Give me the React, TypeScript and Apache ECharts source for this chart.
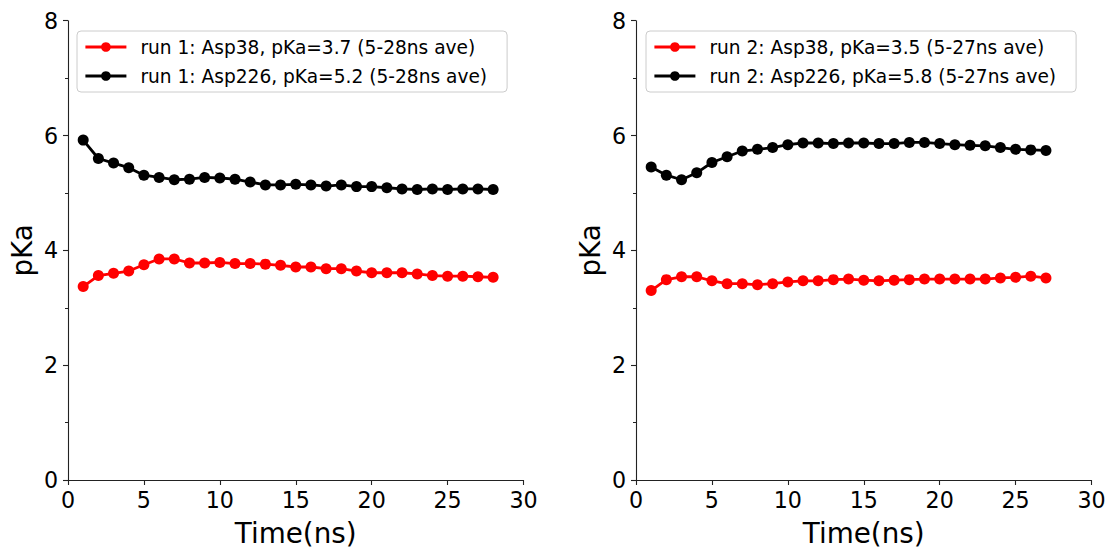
import React, { useEffect, useRef } from "react";
import * as echarts from "echarts";

const FONT = "DejaVu Sans";

const run1Time = [1, 2, 3, 4, 5, 6, 7, 8, 9, 10, 11, 12, 13, 14, 15, 16, 17, 18, 19, 20, 21, 22, 23, 24, 25, 26, 27, 28];
const run1Asp38 = [3.37, 3.56, 3.60, 3.64, 3.75, 3.85, 3.85, 3.78, 3.78, 3.79, 3.77, 3.77, 3.76, 3.74, 3.71, 3.71, 3.68, 3.68, 3.64, 3.61, 3.61, 3.61, 3.59, 3.56, 3.55, 3.55, 3.54, 3.53];
const run1Asp226 = [5.92, 5.60, 5.52, 5.44, 5.31, 5.27, 5.23, 5.24, 5.27, 5.26, 5.24, 5.19, 5.14, 5.14, 5.15, 5.14, 5.12, 5.14, 5.11, 5.11, 5.09, 5.07, 5.06, 5.07, 5.06, 5.07, 5.07, 5.06];

const run2Time = [1, 2, 3, 4, 5, 6, 7, 8, 9, 10, 11, 12, 13, 14, 15, 16, 17, 18, 19, 20, 21, 22, 23, 24, 25, 26, 27];
const run2Asp38 = [3.30, 3.49, 3.54, 3.54, 3.47, 3.42, 3.42, 3.40, 3.42, 3.45, 3.47, 3.47, 3.49, 3.50, 3.48, 3.47, 3.48, 3.49, 3.50, 3.50, 3.50, 3.50, 3.50, 3.52, 3.53, 3.55, 3.52];
const run2Asp226 = [5.45, 5.31, 5.23, 5.35, 5.53, 5.63, 5.73, 5.76, 5.79, 5.84, 5.87, 5.87, 5.86, 5.87, 5.87, 5.86, 5.86, 5.88, 5.88, 5.86, 5.84, 5.83, 5.82, 5.79, 5.76, 5.75, 5.74];

const xTicks = [0, 5, 10, 15, 20, 25, 30];
const yTicks = [0, 2, 4, 6, 8];

const names1 = ["run 1: Asp38, pKa=3.7 (5-28ns ave)", "run 1: Asp226, pKa=5.2 (5-28ns ave)"];
const names2 = ["run 2: Asp38, pKa=3.5 (5-27ns ave)", "run 2: Asp226, pKa=5.8 (5-27ns ave)"];

const AXIS_COLOR = "#222";

function pairs(xs: number[], ys: number[]) {
  return xs.map((x, i) => [x, ys[i]]);
}

function makeX(gridIndex: number) {
  return {
    type: "value",
    gridIndex,
    min: xTicks[0],
    max: xTicks[xTicks.length - 1],
    interval: 5,
    name: "Time(ns)",
    nameLocation: "middle",
    nameGap: 39,
    nameTextStyle: { fontFamily: FONT, fontSize: 27.8, color: "#000" },
    axisLine: { show: true, lineStyle: { color: AXIS_COLOR, width: 1.1 } },
    axisTick: { show: true, length: 5, lineStyle: { color: AXIS_COLOR, width: 1.1 } },
    axisLabel: { fontFamily: FONT, fontSize: 22.2, color: "#000", margin: 9 },
    splitLine: { show: false },
  };
}

function makeY(gridIndex: number) {
  return {
    type: "value",
    gridIndex,
    min: yTicks[0],
    max: yTicks[yTicks.length - 1],
    interval: 2,
    name: "pKa",
    nameLocation: "middle",
    nameGap: 32,
    nameTextStyle: { fontFamily: FONT, fontSize: 27.8, color: "#000" },
    axisLine: { show: true, lineStyle: { color: AXIS_COLOR, width: 1.1 } },
    axisTick: { show: true, length: 5, lineStyle: { color: AXIS_COLOR, width: 1.1 } },
    minorTick: { show: true, splitNumber: 2, length: 3, lineStyle: { color: AXIS_COLOR, width: 1 } },
    axisLabel: { fontFamily: FONT, fontSize: 22.2, color: "#000", margin: 10 },
    splitLine: { show: false },
    minorSplitLine: { show: false },
  };
}

function makeSeries(name: string, idx: number, xs: number[], ys: number[], color: string) {
  return {
    type: "line",
    name,
    xAxisIndex: idx,
    yAxisIndex: idx,
    data: pairs(xs, ys),
    symbol: "circle",
    symbolSize: 11,
    showSymbol: true,
    lineStyle: { color, width: 2.8 },
    itemStyle: { color },
    emphasis: { disabled: true },
  };
}

function makeLegend(data: string[], left: number) {
  return {
    data,
    left,
    top: 31,
    orient: "vertical",
    backgroundColor: "#fff",
    borderColor: "#cccccc",
    borderWidth: 1,
    borderRadius: 4,
    padding: [6, 20, 6, 7],
    itemGap: 9,
    itemWidth: 41,
    itemHeight: 12,
    selectedMode: false,
    lineStyle: { width: 2.8 },
    textStyle: { fontFamily: FONT, fontSize: 18.6, color: "#000", padding: [0, 0, 0, 9], lineHeight: 20 },
  };
}

export default function App() {
  const ref = useRef<HTMLDivElement>(null);
  useEffect(() => {
    if (!ref.current) return;
    const chart = echarts.init(ref.current, undefined, { renderer: "svg" });
    chart.setOption({
      animation: false,
      backgroundColor: "#fff",
      grid: [
        { left: 68, top: 20.7, width: 455.5, height: 462 },
        { left: 636, top: 20.7, width: 455.5, height: 462 },
      ],
      xAxis: [makeX(0), makeX(1)],
      yAxis: [makeY(0), makeY(1)],
      legend: [makeLegend(names1, 77), makeLegend(names2, 646)],
      series: [
        makeSeries(names1[0], 0, run1Time, run1Asp38, "#ff0000"),
        makeSeries(names1[1], 0, run1Time, run1Asp226, "#000000"),
        makeSeries(names2[0], 1, run2Time, run2Asp38, "#ff0000"),
        makeSeries(names2[1], 1, run2Time, run2Asp226, "#000000"),
      ],
    });
    return () => chart.dispose();
  }, []);
  return <div ref={ref} style={{ width: 1111, height: 552, position: "absolute", left: 0, top: 0 }} />;
}
